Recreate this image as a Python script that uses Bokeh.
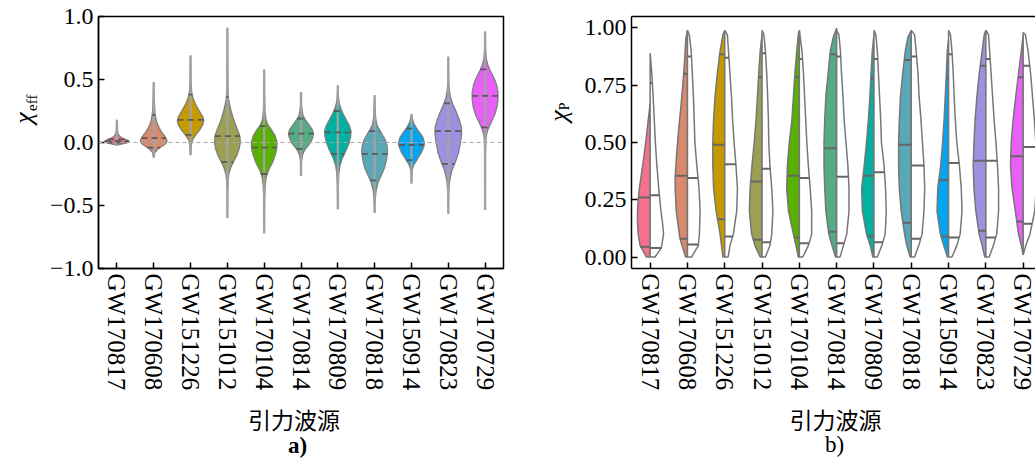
import numpy as np
from bokeh.plotting import figure
from bokeh.models import FixedTicker, CustomJSTickFormatter, Span, LinearAxis, Range1d
from bokeh.layouts import row, column
from bokeh.core.properties import value
from bokeh.embed import file_html
from bokeh.resources import INLINE

# ---------------- data ----------------
events = ["GW170817", "GW170608", "GW151226", "GW151012", "GW170104", "GW170814",
          "GW170809", "GW170818", "GW150914", "GW170823", "GW170729"]
colors = ["#f7718f", "#d98a6c", "#c49a00", "#9ca052", "#58b000", "#55ab83",
          "#00b0a0", "#58a8b8", "#00a6f0", "#9c91e0", "#e960f8"]

# panel a: chi_eff violins (levels and half widths)
eff_v = [
    [-0.02, -0.01, 0.0, 0.01, 0.02, 0.035, 0.05, 0.07, 0.1, 0.18],
    [-0.12, -0.08, -0.05, -0.02, 0.0, 0.02, 0.05, 0.08, 0.12, 0.16, 0.22, 0.3, 0.48],
    [-0.1, -0.02, 0.02, 0.06, 0.1, 0.14, 0.17, 0.2, 0.25, 0.3, 0.35, 0.4, 0.5, 0.69],
    [-0.6, -0.4, -0.3, -0.25, -0.2, -0.15, -0.1, -0.05, 0.0, 0.05, 0.1, 0.15, 0.2, 0.25, 0.3, 0.35, 0.45, 0.91],
    [-0.72, -0.45, -0.35, -0.28, -0.22, -0.15, -0.1, -0.05, 0.0, 0.05, 0.1, 0.14, 0.18, 0.25, 0.35, 0.58],
    [-0.265, -0.15, -0.1, -0.06, -0.03, 0.0, 0.04, 0.07, 0.1, 0.14, 0.18, 0.21, 0.25, 0.3, 0.4],
    [-0.53, -0.35, -0.25, -0.18, -0.12, -0.06, 0.0, 0.05, 0.09, 0.13, 0.18, 0.23, 0.27, 0.31, 0.36, 0.455],
    [-0.56, -0.45, -0.38, -0.32, -0.26, -0.2, -0.14, -0.08, -0.03, 0.02, 0.06, 0.1, 0.14, 0.2, 0.375],
    [-0.325, -0.22, -0.18, -0.13, -0.08, -0.03, 0.0, 0.04, 0.08, 0.12, 0.16, 0.225],
    [-0.565, -0.4, -0.3, -0.22, -0.15, -0.08, 0.0, 0.06, 0.12, 0.18, 0.24, 0.3, 0.36, 0.42, 0.5, 0.68],
    [-0.535, -0.1, 0.03, 0.08, 0.12, 0.17, 0.22, 0.28, 0.34, 0.4, 0.46, 0.52, 0.57, 0.62, 0.67, 0.75, 0.88],
]
eff_w = [
    [0.0, 0.15, 0.28, 0.33, 0.28, 0.15, 0.07, 0.03, 0.015, 0.0],
    [0.0, 0.03, 0.12, 0.28, 0.35, 0.36, 0.3, 0.22, 0.14, 0.08, 0.04, 0.02, 0.0],
    [0.0, 0.02, 0.05, 0.14, 0.25, 0.33, 0.36, 0.34, 0.24, 0.14, 0.07, 0.03, 0.01, 0.0],
    [0.0, 0.005, 0.02, 0.04, 0.09, 0.17, 0.26, 0.32, 0.35, 0.34, 0.28, 0.21, 0.15, 0.1, 0.06, 0.03, 0.01, 0.0],
    [0.0, 0.01, 0.025, 0.05, 0.12, 0.24, 0.3, 0.34, 0.35, 0.3, 0.2, 0.1, 0.05, 0.02, 0.01, 0.0],
    [0.0, 0.01, 0.04, 0.1, 0.18, 0.26, 0.32, 0.34, 0.31, 0.22, 0.12, 0.06, 0.03, 0.01, 0.0],
    [0.0, 0.01, 0.025, 0.06, 0.13, 0.23, 0.31, 0.35, 0.36, 0.32, 0.23, 0.14, 0.08, 0.04, 0.015, 0.0],
    [0.0, 0.015, 0.04, 0.09, 0.18, 0.27, 0.32, 0.35, 0.34, 0.29, 0.21, 0.13, 0.06, 0.025, 0.0],
    [0.0, 0.02, 0.06, 0.16, 0.27, 0.34, 0.35, 0.31, 0.22, 0.12, 0.05, 0.0],
    [0.0, 0.01, 0.04, 0.1, 0.2, 0.28, 0.33, 0.36, 0.36, 0.3, 0.22, 0.13, 0.06, 0.025, 0.01, 0.0],
    [0.0, 0.005, 0.02, 0.05, 0.1, 0.18, 0.26, 0.32, 0.35, 0.35, 0.31, 0.23, 0.14, 0.07, 0.03, 0.01, 0.0],
]
eff_min = [-0.02, -0.12, -0.10, -0.60, -0.72, -0.265, -0.53, -0.56, -0.325, -0.565, -0.535]
eff_max = [0.18, 0.48, 0.69, 0.91, 0.58, 0.40, 0.455, 0.375, 0.225, 0.68, 0.88]
eff_p05 = [0.0, -0.04, 0.06, -0.155, -0.25, -0.05, -0.09, -0.30, -0.14, -0.17, 0.12]
eff_p50 = [0.01, 0.035, 0.18, 0.05, -0.04, 0.07, 0.08, -0.09, -0.02, 0.09, 0.37]
eff_p95 = [0.025, 0.22, 0.38, 0.36, 0.13, 0.19, 0.25, 0.09, 0.11, 0.31, 0.58]

# panel b: chi_p split violins (left = coloured half, right = white half)
chip_left_v = [
    [0, 0.05, 0.1, 0.15, 0.2, 0.25, 0.3, 0.4, 0.5, 0.6, 0.67],
    [0, 0.08, 0.2, 0.3, 0.35, 0.45, 0.55, 0.65, 0.75, 0.85, 0.95, 0.99],
    [0, 0.1, 0.2, 0.3, 0.4, 0.5, 0.6, 0.7, 0.8, 0.9, 0.97, 0.99],
    [0, 0.05, 0.1, 0.2, 0.3, 0.4, 0.5, 0.6, 0.7, 0.8, 0.9, 0.97],
    [0, 0.05, 0.1, 0.2, 0.3, 0.4, 0.5, 0.6, 0.7, 0.8, 0.9, 0.97, 0.99],
    [0, 0.05, 0.1, 0.2, 0.3, 0.4, 0.5, 0.6, 0.7, 0.8, 0.9, 0.96, 1.0],
    [0, 0.05, 0.1, 0.2, 0.3, 0.4, 0.5, 0.6, 0.7, 0.8, 0.9, 0.97],
    [0, 0.05, 0.1, 0.2, 0.3, 0.4, 0.5, 0.6, 0.7, 0.8, 0.9, 0.96, 0.99],
    [0, 0.05, 0.1, 0.2, 0.3, 0.4, 0.5, 0.6, 0.7, 0.8, 0.9, 0.95],
    [0, 0.05, 0.1, 0.2, 0.3, 0.4, 0.5, 0.6, 0.7, 0.8, 0.9, 0.97, 0.99],
    [0.01, 0.05, 0.1, 0.2, 0.3, 0.4, 0.5, 0.6, 0.7, 0.8, 0.9, 0.97],
]
chip_left_w = [
    [0.1, 0.27, 0.32, 0.34, 0.34, 0.32, 0.29, 0.2, 0.12, 0.05, 0.0],
    [0.05, 0.2, 0.3, 0.33, 0.33, 0.29, 0.24, 0.18, 0.125, 0.08, 0.045, 0.0],
    [0.05, 0.125, 0.23, 0.3, 0.32, 0.32, 0.3, 0.26, 0.2, 0.125, 0.05, 0.0],
    [0.05, 0.19, 0.28, 0.34, 0.32, 0.27, 0.21, 0.16, 0.125, 0.09, 0.05, 0.0],
    [0.03, 0.09, 0.16, 0.29, 0.34, 0.32, 0.27, 0.2, 0.16, 0.12, 0.07, 0.03, 0.0],
    [0.03, 0.125, 0.21, 0.29, 0.32, 0.34, 0.34, 0.32, 0.29, 0.23, 0.17, 0.09, 0.0],
    [0.03, 0.1, 0.2, 0.31, 0.33, 0.26, 0.2, 0.15, 0.11, 0.08, 0.045, 0.0],
    [0.03, 0.12, 0.18, 0.27, 0.32, 0.34, 0.34, 0.32, 0.29, 0.23, 0.16, 0.09, 0.0],
    [0.03, 0.13, 0.22, 0.31, 0.29, 0.21, 0.16, 0.12, 0.09, 0.06, 0.035, 0.0],
    [0.03, 0.1, 0.18, 0.27, 0.32, 0.34, 0.32, 0.29, 0.24, 0.18, 0.1, 0.045, 0.0],
    [0.0, 0.05, 0.125, 0.21, 0.3, 0.34, 0.32, 0.27, 0.2, 0.125, 0.05, 0.0],
]
chip_right_v = [
    [0, 0.04, 0.1, 0.15, 0.2, 0.3, 0.4, 0.5, 0.6, 0.7, 0.8, 0.89],
    [0, 0.05, 0.1, 0.2, 0.3, 0.4, 0.5, 0.6, 0.7, 0.8, 0.9, 0.97, 0.99],
    [0, 0.05, 0.1, 0.2, 0.3, 0.4, 0.5, 0.6, 0.7, 0.8, 0.9, 0.97, 0.99],
    [0, 0.05, 0.1, 0.2, 0.3, 0.4, 0.5, 0.6, 0.7, 0.8, 0.9, 0.97, 0.99],
    [0, 0.05, 0.1, 0.2, 0.3, 0.4, 0.5, 0.6, 0.7, 0.8, 0.9, 0.99],
    [0, 0.05, 0.1, 0.2, 0.3, 0.4, 0.5, 0.6, 0.7, 0.8, 0.9, 0.97, 0.99],
    [0, 0.05, 0.1, 0.2, 0.3, 0.4, 0.5, 0.6, 0.7, 0.8, 0.9, 0.97, 0.99],
    [0, 0.05, 0.1, 0.2, 0.3, 0.4, 0.5, 0.6, 0.7, 0.8, 0.9, 0.97, 0.99],
    [0, 0.05, 0.1, 0.2, 0.3, 0.4, 0.5, 0.6, 0.7, 0.8, 0.9, 0.97, 0.99],
    [0, 0.05, 0.1, 0.2, 0.3, 0.4, 0.5, 0.6, 0.7, 0.8, 0.9, 0.97, 0.99],
    [0.01, 0.05, 0.1, 0.2, 0.3, 0.4, 0.5, 0.6, 0.7, 0.8, 0.9, 0.97, 0.98],
]
chip_right_w = [
    [0.13, 0.3, 0.36, 0.33, 0.29, 0.23, 0.18, 0.14, 0.11, 0.08, 0.045, 0.0],
    [0.11, 0.29, 0.32, 0.34, 0.31, 0.25, 0.2, 0.18, 0.16, 0.13, 0.1, 0.05, 0.0],
    [0.09, 0.14, 0.23, 0.32, 0.34, 0.3, 0.25, 0.21, 0.18, 0.14, 0.1, 0.07, 0.0],
    [0.09, 0.21, 0.26, 0.29, 0.26, 0.21, 0.18, 0.17, 0.15, 0.125, 0.09, 0.05, 0.0],
    [0.09, 0.24, 0.33, 0.33, 0.29, 0.24, 0.2, 0.17, 0.14, 0.11, 0.07, 0.0],
    [0.09, 0.18, 0.27, 0.33, 0.33, 0.3, 0.25, 0.2, 0.17, 0.13, 0.1, 0.06, 0.0],
    [0.09, 0.21, 0.3, 0.33, 0.31, 0.27, 0.2, 0.18, 0.15, 0.12, 0.09, 0.05, 0.0],
    [0.09, 0.2, 0.29, 0.34, 0.36, 0.34, 0.3, 0.26, 0.21, 0.18, 0.13, 0.09, 0.0],
    [0.09, 0.22, 0.31, 0.36, 0.34, 0.29, 0.22, 0.18, 0.15, 0.125, 0.09, 0.05, 0.0],
    [0.09, 0.2, 0.29, 0.34, 0.34, 0.31, 0.27, 0.22, 0.18, 0.14, 0.1, 0.07, 0.0],
    [0.0, 0.07, 0.18, 0.31, 0.35, 0.36, 0.34, 0.3, 0.25, 0.2, 0.13, 0.06, 0.0],
]
chip_left_q = [
    [0.045, 0.26, 0.64], [0.08, 0.355, 0.80], [0.165, 0.49, 0.885], [0.075, 0.33, 0.785],
    [0.085, 0.355, 0.785], [0.11, 0.475, 0.885], [0.09, 0.355, 0.78], [0.15, 0.49, 0.86],
    [0.09, 0.335, 0.78], [0.115, 0.42, 0.835], [0.155, 0.44, 0.785],
]
chip_right_q = [
    [0.04, 0.27, 0.76], [0.055, 0.345, 0.875], [0.09, 0.405, 0.87], [0.065, 0.385, 0.89],
    [0.06, 0.345, 0.865], [0.06, 0.35, 0.875], [0.065, 0.37, 0.865], [0.08, 0.40, 0.875],
    [0.085, 0.41, 0.885], [0.085, 0.42, 0.865], [0.145, 0.48, 0.835],
]

eff_ticks = [-1.0, -0.5, 0.0, 0.5, 1.0]
chip_ticks = [0.0, 0.25, 0.5, 0.75, 1.0]
x_title = "引力波源"
panel_tags = ["a)", "b)"]

# ---------------- styling ----------------
SERIF = "Liberation Serif"
CJK = "Noto Sans CJK SC"
ROW_H = 395          # height of the plot row; a text strip sits below it
STRIP_H = 64
idx = list(range(len(events)))
overrides = {i: e for i, e in zip(idx, events)}


def style(p):
    p.grid.visible = False
    p.background_fill_color = "white"
    p.border_fill_color = "white"
    for ax in (p.xaxis[0], p.yaxis[0]):
        ax.major_tick_in = 6
        ax.major_tick_out = 0
        ax.minor_tick_line_color = None
        ax.major_tick_line_width = 1.5
        ax.major_tick_line_color = "black"
        ax.axis_line_width = 1.5
        ax.axis_line_color = "black"
        ax.major_label_text_font = SERIF
        ax.major_label_text_color = "black"
        ax.major_label_standoff = 5
        ax.axis_label = None
    p.yaxis.major_label_text_font_size = "24px"
    p.xaxis.major_label_text_font_size = "25px"
    p.xaxis.ticker = FixedTicker(ticks=idx)
    p.xaxis.major_label_overrides = overrides
    p.xaxis.major_label_orientation = "vertical"


def text_panel(w, h, x0):
    f = figure(width=w, height=h, x_range=Range1d(x0, x0 + w), y_range=Range1d(0, h),
               output_backend="svg", toolbar_location=None, min_border=0,
               x_axis_location=None, y_axis_location=None)
    f.grid.visible = False
    f.outline_line_color = None
    f.background_fill_color = None
    f.border_fill_color = None
    return f


# ---------------- panel a ----------------
p1 = figure(width=476, height=ROW_H, x_range=Range1d(-0.5, 10.5), y_range=Range1d(-1.0, 1.0),
            output_backend="svg", toolbar_location=None,
            min_border_left=54, min_border_right=17, min_border_top=16, min_border_bottom=127)
style(p1)
p1.outline_line_color = "black"
p1.outline_line_width = 1.5
p1.outline_line_alpha = 1.0
p1.yaxis.ticker = FixedTicker(ticks=eff_ticks)
p1.yaxis.formatter = CustomJSTickFormatter(code="return tick.toFixed(1).replace('-', '\u2212');")

xs_a, ys_a = [], []
for i in idx:
    v = np.array(eff_v[i])
    w = np.array(eff_w[i])
    xs_a.append(np.concatenate([i - w, (i + w)[::-1]]))
    ys_a.append(np.concatenate([v, v[::-1]]))
p1.patches(xs_a, ys_a, fill_color=colors, line_color="#7f7f7f", line_width=1.3)
p1.segment(x0=idx, y0=eff_min, x1=idx, y1=eff_max, line_color="#a3a3a3", line_width=2.5, line_alpha=0.9)

qx0, qx1, qy = [], [], []
for i in idx:
    for q in (eff_p05[i], eff_p50[i], eff_p95[i]):
        hw = float(np.interp(q, eff_v[i], eff_w[i]))
        qx0.append(i - hw)
        qx1.append(i + hw)
        qy.append(q)
p1.segment(x0=qx0, y0=qy, x1=qx1, y1=qy, line_color="#5a5a5a", line_width=1.8, line_dash="6 4")
p1.add_layout(Span(location=0, dimension="width", line_color="#a8a8a8", line_width=1.2, line_dash="4 3"))

# ---------------- panel b ----------------
p2 = figure(width=455, height=ROW_H, x_range=Range1d(-0.5, 10.33), y_range=Range1d(-0.05, 1.05),
            output_backend="svg", toolbar_location=None,
            min_border_left=51, min_border_right=0, min_border_top=16, min_border_bottom=125)
style(p2)
p2.outline_line_color = None
p2.yaxis.ticker = FixedTicker(ticks=chip_ticks)
p2.yaxis.formatter = CustomJSTickFormatter(code="return tick.toFixed(2);")
top_axis = LinearAxis(ticker=FixedTicker(ticks=[]), major_tick_in=0, major_tick_out=0,
                      major_label_standoff=0, major_label_text_font_size="0px",
                      minor_tick_line_color=None, axis_line_width=1.5, axis_line_color="black")
p2.add_layout(top_axis, "above")

xs_l, ys_l, xs_r, ys_r = [], [], [], []
for i in idx:
    vl = np.array(chip_left_v[i]); wl = np.array(chip_left_w[i])
    vr = np.array(chip_right_v[i]); wr = np.array(chip_right_w[i])
    xs_l.append(np.concatenate([i - wl, [i, i]]))
    ys_l.append(np.concatenate([vl, [vl[-1], vl[0]]]))
    xs_r.append(np.concatenate([i + wr, [i, i]]))
    ys_r.append(np.concatenate([vr, [vr[-1], vr[0]]]))
p2.patches(xs_l, ys_l, fill_color=colors, line_color="#777777", line_width=1.5)
p2.patches(xs_r, ys_r, fill_color="white", line_color="#777777", line_width=1.5)

bx0, bx1, by = [], [], []
for i in idx:
    for q in chip_left_q[i]:
        bx0.append(i); bx1.append(i - float(np.interp(q, chip_left_v[i], chip_left_w[i]))); by.append(q)
    for q in chip_right_q[i]:
        bx0.append(i); bx1.append(i + float(np.interp(q, chip_right_v[i], chip_right_w[i]))); by.append(q)
p2.segment(x0=bx0, y0=by, x1=bx1, y1=by, line_color="#666666", line_width=2)

# ---------------- y-axis titles (chi with subscript) ----------------
ya = text_panel(44, ROW_H, 0)
ya.text(x=[23], y=[ROW_H - 168], text=["χ"], angle=np.pi / 2, text_font=value(SERIF),
        text_font_style="italic", text_font_size="26px", text_color="black",
        text_align="left", text_baseline="alphabetic")
ya.text(x=[31], y=[ROW_H - 148], text=["eff"], angle=np.pi / 2, text_font=value(SERIF),
        text_font_size="15px", text_color="black", text_align="left", text_baseline="alphabetic")

yb = text_panel(60, ROW_H, 520)
yb.text(x=[558], y=[ROW_H - 165], text=["χ"], angle=np.pi / 2, text_font=value(SERIF),
        text_font_style="italic", text_font_size="26px", text_color="black",
        text_align="left", text_baseline="alphabetic")
yb.text(x=[564], y=[ROW_H - 147], text=["P"], angle=np.pi / 2, text_font=value(SERIF),
        text_font_size="14px", text_color="black", text_align="left", text_baseline="alphabetic")

# ---------------- x titles and panel tags ----------------
strip = text_panel(1035, STRIP_H, 0)
page_h = ROW_H + STRIP_H
strip.text(x=[293.5, 835], y=[page_h - 418.5, page_h - 418.5], text=[x_title, x_title],
           text_font=value(CJK), text_font_size="23px", text_color="black",
           text_align="center", text_baseline="middle")
strip.text(x=[297], y=[page_h - 445], text=[panel_tags[0]], text_font=value(SERIF),
           text_font_style="bold", text_font_size="23px", text_color="black",
           text_align="center", text_baseline="middle")
strip.text(x=[834], y=[page_h - 444], text=[panel_tags[1]], text_font=value(SERIF),
           text_font_size="23px", text_color="black",
           text_align="center", text_baseline="middle")

layout = column(row(ya, p1, yb, p2), strip)
open("out.html", "w").write(file_html(layout, INLINE))
